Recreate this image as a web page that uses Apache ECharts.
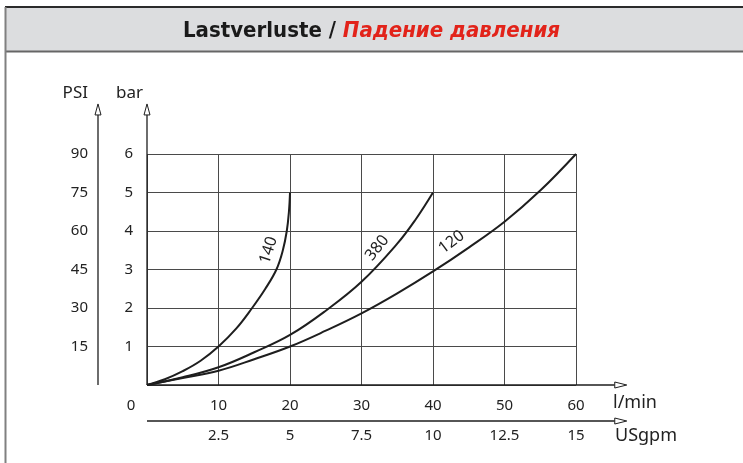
<!DOCTYPE html>
<html>
<head>
<meta charset="utf-8">
<script src="https://cdn.jsdelivr.net/npm/echarts@6/dist/echarts.min.js"></script>
<style>
html, body { margin: 0; padding: 0; background: #fff; }
#chart { width: 743px; height: 463px; }
</style>
</head>
<body>
<div id="chart"></div>
<script>
// durchfluss l/min -> druckverlust bar
var curve140Flow = [0, 2.5, 5, 7.5, 10, 12.5, 14.7, 16.55, 18.1, 19.0, 19.55, 19.85, 20];
var curve140Bar  = [0, 0.15, 0.36, 0.63, 1.0, 1.47, 2.0, 2.5, 3.0, 3.5, 4.0, 4.5, 5.0];

var curve380Flow = [0, 5, 10, 15, 20, 25, 30, 35, 37.5, 40];
var curve380Bar  = [0, 0.2, 0.46, 0.85, 1.3, 1.93, 2.68, 3.67, 4.28, 5.0];

var curve120Flow = [0, 5, 10, 15, 20, 25, 30, 35, 40, 45, 50, 55, 60];
var curve120Bar  = [0, 0.18, 0.37, 0.67, 1.0, 1.41, 1.86, 2.38, 2.95, 3.57, 4.24, 5.05, 6.0];

var curveNames = ['140', '380', '120'];
// wo die Beschriftung steht (Datenkoordinaten) und Drehung
var labelPos = [[17.0, 3.5], [32.2, 3.56], [42.6, 3.71]];
var labelRot = [72, 52, 37];

var axisFont = '"Noto Sans", "Open Sans", sans-serif';
var lineColor = '#1e1e1e';

function zip(xs, ys) {
	var out = [];
	for (var i = 0; i < xs.length; i++) {
		out.push([xs[i], ys[i]]);
	}
	return out;
}

function curveSeries(name, xs, ys) {
	return {
		name: name,
		type: 'line',
		xAxisIndex: 0,
		yAxisIndex: 0,
		data: zip(xs, ys),
		smooth: 0.4,
		symbol: 'none',
		lineStyle: { color: lineColor, width: 2 },
		z: 5
	};
}

var chart = echarts.init(document.getElementById('chart'));

var option = {
	animation: false,
	backgroundColor: '#fff',
	title: {
		text: '{a|Lastverluste / }{b|Падение давления}',
		left: 'center',
		top: 15,
		textStyle: {
			rich: {
				a: {
					fontFamily: '"Liberation Sans Narrow", "DejaVu Sans Condensed", "Roboto", sans-serif',
					fontWeight: 'bold',
					fontSize: 22,
					color: '#1a1a1a'
				},
				b: {
					fontFamily: '"Liberation Sans Narrow", "DejaVu Sans Condensed", "Roboto", sans-serif',
					fontWeight: 'bold',
					fontStyle: 'italic',
					fontSize: 22,
					color: '#e2231a'
				}
			}
		}
	},
	grid: {
		left: 147,
		top: 154,
		width: 429,
		height: 231
	},
	xAxis: [{
		type: 'value',
		gridIndex: 0,
		position: 'bottom',
		min: 0,
		max: 60,
		interval: 10,
		axisLine: { show: false },
		axisTick: { show: false },
		splitLine: { show: true, lineStyle: { color: '#4a4a4a', width: 1 } },
		axisLabel: {
			margin: 13,
			fontFamily: axisFont,
			fontSize: 15,
			color: '#222',
			formatter: function(v) {
				return v === 0 ? '{z|0}' : String(v);
			},
			rich: {
				z: { fontFamily: axisFont, fontSize: 15, color: '#222', padding: [0, 32, 0, 0] }
			}
		},
		name: 'l/min',
		nameLocation: 'end',
		nameGap: 37,
		nameTextStyle: {
			fontFamily: axisFont,
			fontSize: 18,
			color: '#222',
			align: 'left',
			verticalAlign: 'top',
			padding: [9, 0, 0, 0]
		}
	}, {
		type: 'value',
		gridIndex: 0,
		position: 'bottom',
		offset: 36,
		min: 0,
		max: 15,
		interval: 2.5,
		axisLine: { show: false },
		axisTick: { show: false },
		splitLine: { show: false },
		axisLabel: {
			margin: 7,
			fontFamily: axisFont,
			fontSize: 15,
			color: '#222',
			formatter: function(v) {
				return v === 0 ? '' : String(v);
			}
		},
		name: 'USgpm',
		nameLocation: 'end',
		nameGap: 39,
		nameTextStyle: {
			fontFamily: axisFont,
			fontSize: 18,
			color: '#222',
			align: 'left',
			verticalAlign: 'top',
			padding: [42, 0, 0, 0]
		}
	}],
	yAxis: [{
		type: 'value',
		gridIndex: 0,
		position: 'left',
		min: 0,
		max: 6,
		interval: 1,
		axisLine: { show: false },
		axisTick: { show: false },
		splitLine: { show: true, lineStyle: { color: '#4a4a4a', width: 1 } },
		axisLabel: {
			margin: 14,
			fontFamily: axisFont,
			fontSize: 15,
			color: '#222',
			formatter: function(v) {
				return v === 0 ? '' : String(v);
			}
		},
		name: 'bar',
		nameLocation: 'end',
		nameGap: 52,
		nameTextStyle: {
			fontFamily: axisFont,
			fontSize: 17,
			color: '#222',
			align: 'right',
			padding: [0, 4, 0, 0]
		}
	}, {
		type: 'value',
		gridIndex: 0,
		position: 'left',
		offset: 49,
		min: 0,
		max: 90,
		interval: 15,
		axisLine: { show: false },
		axisTick: { show: false },
		splitLine: { show: false },
		axisLabel: {
			margin: 10,
			fontFamily: axisFont,
			fontSize: 15,
			color: '#222',
			formatter: function(v) {
				return v === 0 ? '' : String(v);
			}
		},
		name: 'PSI',
		nameLocation: 'end',
		nameGap: 52,
		nameTextStyle: {
			fontFamily: axisFont,
			fontSize: 17,
			color: '#222',
			align: 'right',
			padding: [0, 59, 0, 0]
		}
	}],
	series: [
		curveSeries(curveNames[0], curve140Flow, curve140Bar),
		curveSeries(curveNames[1], curve380Flow, curve380Bar),
		curveSeries(curveNames[2], curve120Flow, curve120Bar)
	]
};

chart.setOption(option);

//achsen mit pfeilen und rahmen
function arrowUp(x, tipY) {
	return {
		type: 'polygon',
		shape: { points: [[x, tipY], [x - 3, tipY + 11], [x + 3, tipY + 11]] },
		style: { fill: '#fff', stroke: lineColor, lineWidth: 1 },
		z: 10
	};
}

function arrowRight(tipX, y) {
	return {
		type: 'polygon',
		shape: { points: [[tipX, y], [tipX - 12, y - 3], [tipX - 12, y + 3]] },
		style: { fill: '#fff', stroke: lineColor, lineWidth: 1 },
		z: 10
	};
}

function vLine(x, y1, y2, color, w) {
	return {
		type: 'line',
		shape: { x1: x, y1: y1, x2: x, y2: y2 },
		style: { stroke: color, lineWidth: w },
		z: 9
	};
}

function hLine(x1, x2, y, color, w) {
	return {
		type: 'line',
		shape: { x1: x1, y1: y, x2: x2, y2: y },
		style: { stroke: color, lineWidth: w },
		z: 9
	};
}

var origin = chart.convertToPixel({ xAxisIndex: 0, yAxisIndex: 0 }, [0, 0]);
var yTip = chart.convertToPixel({ xAxisIndex: 0, yAxisIndex: 0 }, [0, 7.3])[1];
var xTip = chart.convertToPixel({ xAxisIndex: 0, yAxisIndex: 0 }, [67.1, 0])[0];
var psiX = origin[0] - 49;
var gpmY = origin[1] + 36;

var graphics = [
	// titelband
	{ type: 'rect', shape: { x: 5, y: 7, width: 740, height: 45 }, style: { fill: '#dcdddf' }, z: -1 },
	hLine(5, 743, 7, '#2b2b2b', 2),
	hLine(5, 743, 51.5, '#666', 2),
	vLine(5.5, 7, 463, '#808080', 2),
	// achsen
	vLine(origin[0], origin[1], yTip + 11, lineColor, 1.3),
	arrowUp(origin[0], yTip),
	vLine(psiX, origin[1], yTip + 11, lineColor, 1.3),
	arrowUp(psiX, yTip),
	hLine(origin[0], xTip - 12, origin[1], lineColor, 1.3),
	arrowRight(xTip, origin[1]),
	hLine(origin[0], xTip - 12, gpmY, lineColor, 1.3),
	arrowRight(xTip, gpmY)
];

for (var i = 0; i < curveNames.length; i++) {
	var p = chart.convertToPixel({ xAxisIndex: 0, yAxisIndex: 0 }, labelPos[i]);
	graphics.push({
		type: 'text',
		x: p[0],
		y: p[1],
		rotation: labelRot[i] * Math.PI / 180,
		style: {
			text: curveNames[i],
			fontFamily: axisFont,
			fontSize: 16,
			fill: '#222',
			align: 'center',
			verticalAlign: 'middle'
		},
		z: 10
	});
}

chart.setOption({ graphic: graphics });
</script>
</body>
</html>
